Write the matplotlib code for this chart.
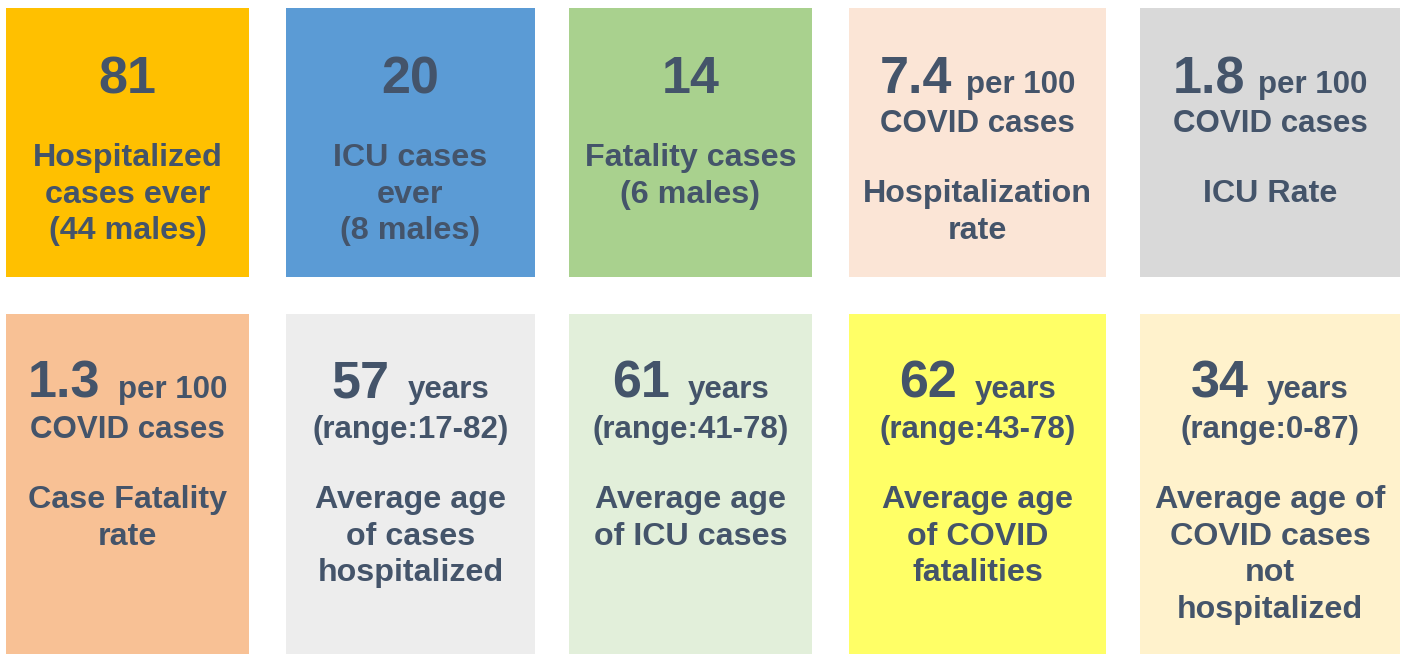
import matplotlib
matplotlib.use("Agg")
import matplotlib.pyplot as plt
from matplotlib import font_manager

# Tile contents, left to right, top row then bottom row
values = ["81", "20", "14", "7.4", "1.8", "1.3", "57", "61", "62", "34"]
units = ["", "", "", "per 100", "per 100", "per 100", "years", "years", "years", "years"]
sublines = ["", "", "", "COVID cases", "COVID cases", "COVID cases",
            "(range:17-82)", "(range:41-78)", "(range:43-78)", "(range:0-87)"]
labels = [
    ["Hospitalized", "cases ever", "(44 males)"],
    ["ICU cases", "ever", "(8 males)"],
    ["Fatality cases", "(6 males)"],
    ["Hospitalization", "rate"],
    ["ICU Rate"],
    ["Case Fatality", "rate"],
    ["Average age", "of cases", "hospitalized"],
    ["Average age", "of ICU cases"],
    ["Average age", "of COVID", "fatalities"],
    ["Average age of", "COVID cases", "not", "hospitalized"],
]
tile_colors = ["#FFC000", "#5B9BD5", "#A9D18E", "#FBE5D6", "#D9D9D9",
               "#F8C195", "#EDEDED", "#E2EFDA", "#FFFF66", "#FFF2CC"]
text_color = "#44546A"

# Layout (pixels)
col_left = [6, 286, 569, 849, 1140]
col_right = [249, 535, 812, 1106, 1400]
row_top = [8, 314]
row_bottom = [277, 654]

names = {f.name for f in font_manager.fontManager.ttflist}
family = "Liberation Sans Narrow" if "Liberation Sans Narrow" in names else "Liberation Sans"

W, H = 1405, 654
fig = plt.figure(figsize=(W / 100, H / 100), dpi=100)
ax = fig.add_axes([0, 0, 1, 1])
ax.set_xlim(0, W)
ax.set_ylim(H, 0)
ax.axis("off")

lefts, widths, tops, heights = [], [], [], []
for i in range(10):
    r, c = divmod(i, 5)
    lefts.append(col_left[c])
    widths.append(col_right[c] - col_left[c])
    tops.append(row_top[r])
    heights.append(row_bottom[r] - row_top[r])
ax.bar(lefts, heights, width=widths, bottom=tops, align="edge", color=tile_colors, linewidth=0)

renderer = fig.canvas.get_renderer()
big_size, unit_size, label_size = 37.5, 22.5, 23.2
line_step = 36.7

for i in range(10):
    r = i // 5
    cx = lefts[i] + widths[i] / 2
    top = tops[i]
    y_num = top + 85 - r
    kw = dict(color=text_color, fontweight="bold", family=family, va="baseline")

    big = ax.text(cx, y_num, values[i], fontsize=big_size, ha="left", **kw)
    if units[i]:
        gap = 13 if r == 0 else 18
        small = ax.text(cx, y_num, units[i], fontsize=unit_size, ha="left", **kw)
        w1 = big.get_window_extent(renderer).width
        w2 = small.get_window_extent(renderer).width
        x0 = cx - (w1 + gap + w2) / 2
        big.set_x(x0)
        small.set_x(x0 + w1 + gap)
    else:
        big.set_ha("center")

    if sublines[i]:
        ax.text(cx, top + 124, sublines[i], fontsize=unit_size, ha="center", **kw)
        y = top + 194
    else:
        y = top + 158
    for line in labels[i]:
        ax.text(cx, y, line, fontsize=label_size, ha="center", **kw)
        y += line_step

fig.savefig("out.png", dpi=100, facecolor="white")
